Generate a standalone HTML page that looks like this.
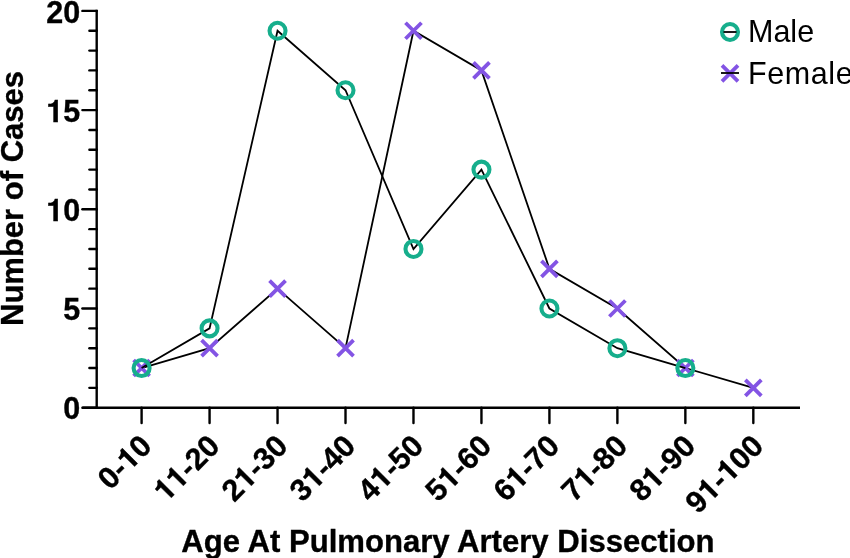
<!DOCTYPE html>
<html><head><meta charset="utf-8"><style>html,body{margin:0;padding:0;background:#fff;}svg{display:block;}.h{font-family:"TeX Gyre Heros","Liberation Sans",Arial,sans-serif;}</style></head>
<body>
<svg width="850" height="558" viewBox="0 0 850 558">
<rect width="850" height="558" fill="#fff"/>
<g stroke="#000" stroke-width="2.4" fill="none" stroke-linecap="round">
<line x1="96.7" y1="9.70" x2="96.7" y2="407.7" stroke-linecap="butt"/>
<line x1="82.4" y1="407.7" x2="800" y2="407.7" stroke-linecap="butt"/>
<line x1="82.4" y1="407.70" x2="96.7" y2="407.70"/>
<line x1="89.4" y1="387.86" x2="96.7" y2="387.86"/>
<line x1="89.4" y1="368.02" x2="96.7" y2="368.02"/>
<line x1="89.4" y1="348.18" x2="96.7" y2="348.18"/>
<line x1="89.4" y1="328.34" x2="96.7" y2="328.34"/>
<line x1="82.4" y1="308.50" x2="96.7" y2="308.50"/>
<line x1="89.4" y1="288.66" x2="96.7" y2="288.66"/>
<line x1="89.4" y1="268.82" x2="96.7" y2="268.82"/>
<line x1="89.4" y1="248.98" x2="96.7" y2="248.98"/>
<line x1="89.4" y1="229.14" x2="96.7" y2="229.14"/>
<line x1="82.4" y1="209.30" x2="96.7" y2="209.30"/>
<line x1="89.4" y1="189.46" x2="96.7" y2="189.46"/>
<line x1="89.4" y1="169.62" x2="96.7" y2="169.62"/>
<line x1="89.4" y1="149.78" x2="96.7" y2="149.78"/>
<line x1="89.4" y1="129.94" x2="96.7" y2="129.94"/>
<line x1="82.4" y1="110.10" x2="96.7" y2="110.10"/>
<line x1="89.4" y1="90.26" x2="96.7" y2="90.26"/>
<line x1="89.4" y1="70.42" x2="96.7" y2="70.42"/>
<line x1="89.4" y1="50.58" x2="96.7" y2="50.58"/>
<line x1="89.4" y1="30.74" x2="96.7" y2="30.74"/>
<line x1="82.4" y1="10.90" x2="96.7" y2="10.90"/>
<line x1="141.60" y1="407.7" x2="141.60" y2="423"/>
<line x1="209.57" y1="407.7" x2="209.57" y2="423"/>
<line x1="277.54" y1="407.7" x2="277.54" y2="423"/>
<line x1="345.51" y1="407.7" x2="345.51" y2="423"/>
<line x1="413.48" y1="407.7" x2="413.48" y2="423"/>
<line x1="481.45" y1="407.7" x2="481.45" y2="423"/>
<line x1="549.42" y1="407.7" x2="549.42" y2="423"/>
<line x1="617.39" y1="407.7" x2="617.39" y2="423"/>
<line x1="685.36" y1="407.7" x2="685.36" y2="423"/>
<line x1="753.33" y1="407.7" x2="753.33" y2="423"/>
</g>
<g font-family="Liberation Sans, Arial, sans-serif" font-weight="bold" stroke="#000" stroke-width="0.35" font-size="30.5" text-anchor="end" fill="#000">
<text x="80.2" y="419.40">0</text>
<text x="80.2" y="320.20">5</text>
<text x="80.2" y="221.00"><tspan class="h">1</tspan>0</text>
<text x="80.2" y="121.80"><tspan class="h">1</tspan>5</text>
<text x="80.2" y="22.60">20</text>
</g>
<g font-family="Liberation Sans, Arial, sans-serif" font-weight="bold" stroke="#000" stroke-width="0.35" font-size="30.5" text-anchor="end" fill="#000">
<text transform="translate(139.30,433.7) rotate(-45)" x="0" y="20">0-<tspan class="h">1</tspan>0</text>
<text transform="translate(207.27,433.7) rotate(-45)" x="0" y="20"><tspan class="h">1</tspan><tspan class="h">1</tspan>-20</text>
<text transform="translate(275.24,433.7) rotate(-45)" x="0" y="20">2<tspan class="h">1</tspan>-30</text>
<text transform="translate(343.21,433.7) rotate(-45)" x="0" y="20">3<tspan class="h">1</tspan>-40</text>
<text transform="translate(411.18,433.7) rotate(-45)" x="0" y="20">4<tspan class="h">1</tspan>-50</text>
<text transform="translate(479.15,433.7) rotate(-45)" x="0" y="20">5<tspan class="h">1</tspan>-60</text>
<text transform="translate(547.12,433.7) rotate(-45)" x="0" y="20">6<tspan class="h">1</tspan>-70</text>
<text transform="translate(615.09,433.7) rotate(-45)" x="0" y="20">7<tspan class="h">1</tspan>-80</text>
<text transform="translate(683.06,433.7) rotate(-45)" x="0" y="20">8<tspan class="h">1</tspan>-90</text>
<text transform="translate(751.03,433.7) rotate(-45)" x="0" y="20">9<tspan class="h">1</tspan>-<tspan class="h">1</tspan>00</text>
</g>
<polyline points="141.60,368.02 209.57,348.18 277.54,288.66 345.51,348.18 413.48,30.74 481.45,70.42 549.42,268.82 617.39,308.50 685.36,368.02 753.33,387.86" fill="none" stroke="#000" stroke-width="1.8" stroke-linejoin="miter"/>
<path d="M133.60,360.02L149.60,376.02M133.60,376.02L149.60,360.02" stroke="#8354E4" stroke-width="3.8" fill="none"/>
<path d="M201.57,340.18L217.57,356.18M201.57,356.18L217.57,340.18" stroke="#8354E4" stroke-width="3.8" fill="none"/>
<path d="M269.54,280.66L285.54,296.66M269.54,296.66L285.54,280.66" stroke="#8354E4" stroke-width="3.8" fill="none"/>
<path d="M337.51,340.18L353.51,356.18M337.51,356.18L353.51,340.18" stroke="#8354E4" stroke-width="3.8" fill="none"/>
<path d="M405.48,22.74L421.48,38.74M405.48,38.74L421.48,22.74" stroke="#8354E4" stroke-width="3.8" fill="none"/>
<path d="M473.45,62.42L489.45,78.42M473.45,78.42L489.45,62.42" stroke="#8354E4" stroke-width="3.8" fill="none"/>
<path d="M541.42,260.82L557.42,276.82M541.42,276.82L557.42,260.82" stroke="#8354E4" stroke-width="3.8" fill="none"/>
<path d="M609.39,300.50L625.39,316.50M609.39,316.50L625.39,300.50" stroke="#8354E4" stroke-width="3.8" fill="none"/>
<path d="M677.36,360.02L693.36,376.02M677.36,376.02L693.36,360.02" stroke="#8354E4" stroke-width="3.8" fill="none"/>
<path d="M745.33,379.86L761.33,395.86M745.33,395.86L761.33,379.86" stroke="#8354E4" stroke-width="3.8" fill="none"/>
<polyline points="141.60,368.02 209.57,328.34 277.54,30.74 345.51,90.26 413.48,248.98 481.45,169.62 549.42,308.50 617.39,348.18 685.36,368.02" fill="none" stroke="#000" stroke-width="1.8" stroke-linejoin="miter"/>
<circle cx="141.60" cy="368.02" r="8.0" fill="none" stroke="#16AE8C" stroke-width="4.1"/>
<circle cx="209.57" cy="328.34" r="8.0" fill="none" stroke="#16AE8C" stroke-width="4.1"/>
<circle cx="277.54" cy="30.74" r="8.0" fill="none" stroke="#16AE8C" stroke-width="4.1"/>
<circle cx="345.51" cy="90.26" r="8.0" fill="none" stroke="#16AE8C" stroke-width="4.1"/>
<circle cx="413.48" cy="248.98" r="8.0" fill="none" stroke="#16AE8C" stroke-width="4.1"/>
<circle cx="481.45" cy="169.62" r="8.0" fill="none" stroke="#16AE8C" stroke-width="4.1"/>
<circle cx="549.42" cy="308.50" r="8.0" fill="none" stroke="#16AE8C" stroke-width="4.1"/>
<circle cx="617.39" cy="348.18" r="8.0" fill="none" stroke="#16AE8C" stroke-width="4.1"/>
<circle cx="685.36" cy="368.02" r="8.0" fill="none" stroke="#16AE8C" stroke-width="4.1"/>
<circle cx="730.00" cy="32.00" r="8.0" fill="none" stroke="#16AE8C" stroke-width="4.1"/>
<line x1="723.5" y1="32" x2="736.5" y2="32" stroke="#000" stroke-width="1.8"/>
<path d="M722.00,65.30L738.00,81.30M722.00,81.30L738.00,65.30" stroke="#8354E4" stroke-width="3.8" fill="none"/>
<line x1="721" y1="73" x2="739" y2="73" stroke="#000" stroke-width="1.8"/>
<g font-family="Liberation Sans, Arial, sans-serif" font-size="30.5" fill="#000">
<text x="748" y="42.2">Male</text>
<text x="748" y="83.6" letter-spacing="0.6">Female</text>
</g>
<text x="447.9" y="551.7" text-anchor="middle" font-family="Liberation Sans, Arial, sans-serif" font-weight="bold" stroke="#000" stroke-width="0.35" font-size="31.1">Age At Pulmonary Artery Dissection</text>
<text transform="translate(23,198.5) rotate(-90)" text-anchor="middle" font-family="Liberation Sans, Arial, sans-serif" font-weight="bold" stroke="#000" stroke-width="0.35" font-size="31">Number of Cases</text>
</svg>
</body></html>
